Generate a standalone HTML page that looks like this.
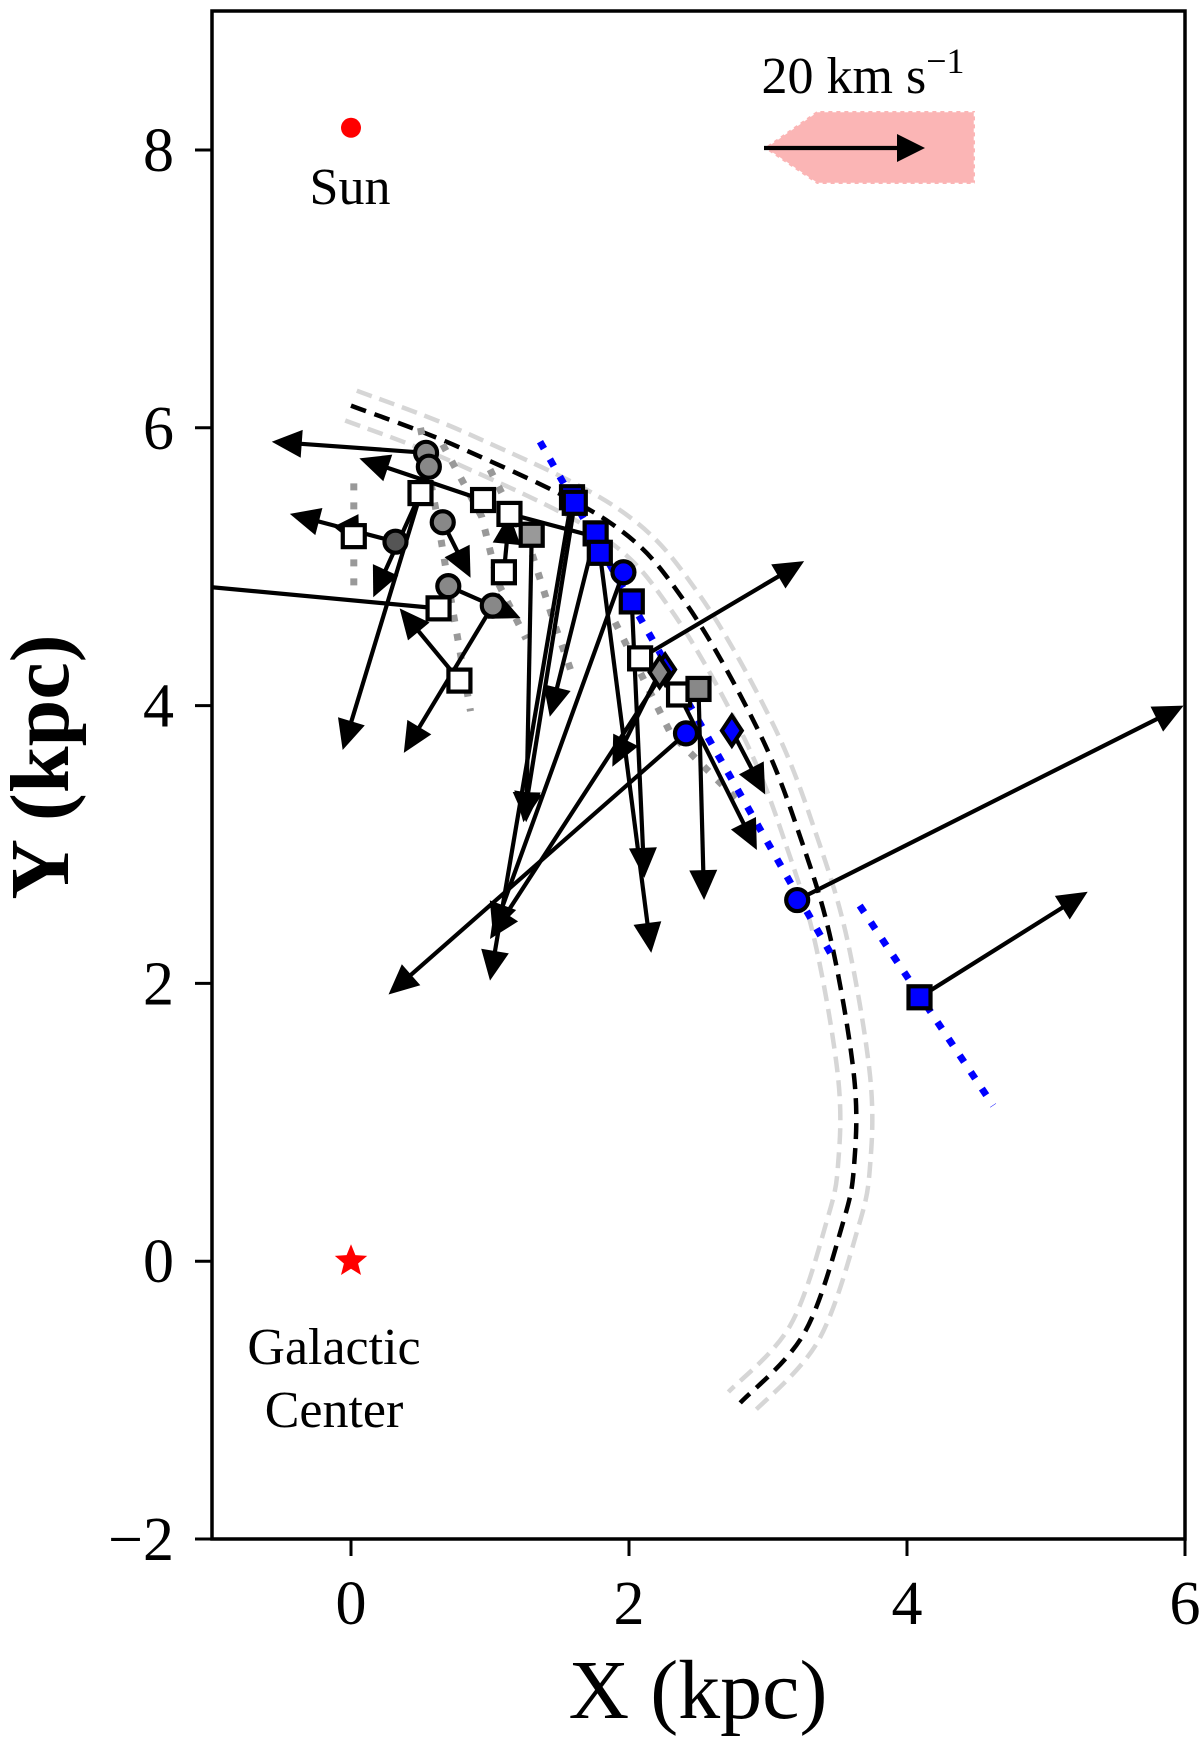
<!DOCTYPE html>
<html><head><meta charset="utf-8">
<style>
html,body{margin:0;padding:0;background:#fff;}
svg{display:block;font-family:"Liberation Serif",serif;}
</style></head>
<body>
<svg id="chart" width="1200" height="1737" viewBox="0 0 1200 1737" xmlns="http://www.w3.org/2000/svg">
<defs><clipPath id="plotclip"><rect x="212" y="11" width="973" height="1528"/></clipPath></defs>
<rect x="0" y="0" width="1200" height="1737" fill="#fff"/>
<g id="plot" clip-path="url(#plotclip)"></g>
<g id="axes"></g>
</svg>
<script>
// ---- data ----
const xTicks = [0, 2, 4, 6];
const yTicks = [-2, 0, 2, 4, 6, 8];
const arcX = [0, 0.8, 1.86, 2.4, 2.94, 3.25, 3.46, 3.62, 3.62, 3.54, 3.26, 2.8];
const arcY = [6.16, 5.85, 5.32, 4.75, 3.8, 3.0, 2.28, 1.32, 0.7, 0.28, -0.52, -1.02];
const blueLine1X = [1.36, 3.46]; const blueLine1Y = [5.9, 2.2];
const blueLine2X = [3.66, 4.62]; const blueLine2Y = [2.56, 1.12];
const grayDotA_X = [0.02, 0.02]; const grayDotA_Y = [5.6, 4.86];
const grayDotB_X = [0.5, 0.62, 0.74, 0.86]; const grayDotB_Y = [6.0, 5.36, 4.64, 3.96];
const grayDotC_X = [0.66, 0.94, 1.06, 1.26]; const grayDotC_Y = [5.88, 5.36, 4.88, 4.48];
const grayDotD_X = [1.0, 1.3, 1.46, 1.6]; const grayDotD_Y = [5.7, 5.1, 4.6, 4.2];
const grayDotE_X = [1.9, 2.3, 2.8]; const grayDotE_Y = [4.6, 3.8, 3.3];
// markers: x, y, arrow end x, arrow end y, shape, fill
const mX  = [0.54,0.56,0.50,0.32,0.02,0.66,0.70,1.02,0.78,0.63,0.95,1.10,1.14,1.30,1.59,1.61,1.76,1.79,1.96,2.02,2.08,2.26,2.22,2.36,2.50,2.41,2.74,3.21,4.09];
const mY  = [5.82,5.72,5.53,5.18,5.22,5.32,4.86,4.72,4.18,4.70,5.48,4.96,5.38,5.23,5.50,5.46,5.24,5.10,4.96,4.75,4.34,4.26,4.24,4.08,4.12,3.80,3.82,2.60,1.90];
const uX  = [-0.57,-0.06,0.16,-0.44,0.06,0.86,1.22,0.38,0.35,-1.3,0.06,1.14,1.74,1.26,1.0,1.24,1.43,2.16,1.02,2.11,3.26,1.0,1.88,2.92,2.54,0.27,2.98,5.99,5.30];
const uY  = [5.90,3.68,4.78,5.38,5.14,4.92,4.63,3.66,4.70,4.88,5.78,5.38,5.22,3.16,2.02,3.16,3.92,2.22,2.36,2.76,5.04,2.32,3.56,2.96,2.60,1.92,3.36,4.00,2.66];
const mShape = ["c","c","s","c","s","c","c","c","s","s","s","s","s","s","s","s","s","s","c","s","s","d","d","s","s","c","d","c","s"];
const mFill  = ["#888","#888","#fff","#555","#fff","#888","#888","#888","#fff","#fff","#fff","#fff","#fff","#999","#00f","#00f","#00f","#00f","#00f","#00f","#fff","#00f","#888","#fff","#888","#00f","#00f","#00f","#00f"];
const noHead = [9, 12];

// ---- scales ----
function X(x){ return 351 + 139 * x; }
function Y(y){ return 1539 - 138.9 * (y + 2); }
const NS = "http://www.w3.org/2000/svg";
const plot = document.getElementById('plot');
const axes = document.getElementById('axes');
function mk(tag, attrs, parent){ const e = document.createElementNS(NS, tag); for (const k in attrs) e.setAttribute(k, attrs[k]); parent.appendChild(e); return e; }
function pts(xs, ys){ return xs.map((x,i)=>X(x).toFixed(1)+','+Y(ys[i]).toFixed(1)).join(' '); }
function smoothPath(P){
  let d = 'M'+P[0][0].toFixed(1)+','+P[0][1].toFixed(1);
  for (let i=0;i<P.length-1;i++){
    const p0=P[Math.max(0,i-1)], p1=P[i], p2=P[i+1], p3=P[Math.min(P.length-1,i+2)];
    const c1=[p1[0]+(p2[0]-p0[0])/6, p1[1]+(p2[1]-p0[1])/6];
    const c2=[p2[0]-(p3[0]-p1[0])/6, p2[1]-(p3[1]-p1[1])/6];
    d += ' C'+c1.map(v=>v.toFixed(1)).join(',')+' '+c2.map(v=>v.toFixed(1)).join(',')+' '+p2.map(v=>v.toFixed(1)).join(',');
  }
  return d;
}
function offsetP(xs, ys, d){
  const P = xs.map((x,i)=>[X(x),Y(ys[i])]); const out=[];
  for (let i=0;i<P.length;i++){
    const a=P[Math.max(0,i-1)], b=P[Math.min(P.length-1,i+1)];
    let dx=b[0]-a[0], dy=b[1]-a[1]; const L=Math.hypot(dx,dy); dx/=L; dy/=L;
    out.push([P[i][0]-dy*d, P[i][1]+dx*d]);
  }
  return out;
}
[-16, 16].forEach((d, i) => {
  const e = mk('path', {d: smoothPath(offsetP(arcX, arcY, d)), fill:'none', stroke:'#d6d6d6', 'stroke-width':4.5, 'stroke-dasharray':'16,8'}, plot);
  
  
});
const arc = mk('path', {d: smoothPath(offsetP(arcX, arcY, 0)), fill:'none', stroke:'#000', 'stroke-width':4.5, 'stroke-dasharray':'16,9'}, plot);



[[grayDotA_X,grayDotA_Y],[grayDotB_X,grayDotB_Y],[grayDotC_X,grayDotC_Y],[grayDotD_X,grayDotD_Y],[grayDotE_X,grayDotE_Y]].forEach(g=>{
  const e = mk('polyline', {points: pts(g[0], g[1]), fill:'none', stroke:'#999', 'stroke-width':7, 'stroke-dasharray':'7,12'}, plot);
  
  
});
[[blueLine1X,blueLine1Y],[blueLine2X,blueLine2Y]].forEach(g=>{
  const e = mk('polyline', {points: pts(g[0], g[1]), fill:'none', stroke:'#00f', 'stroke-width':7, 'stroke-dasharray':'8,12'}, plot);
  
  
});

// arrows
for (let i=0;i<mX.length;i++){
  const x1=X(mX[i]), y1=Y(mY[i]), x2=X(uX[i]), y2=Y(uY[i]);
  const g = mk('g', {}, plot);
  
  
  let dx=x2-x1, dy=y2-y1; const L=Math.hypot(dx,dy)||1; dx/=L; dy/=L;
  const hl=30, hw=14;
  const head = noHead.indexOf(i) < 0;
  const ex = head ? x2-dx*hl*0.8 : x2, ey = head ? y2-dy*hl*0.8 : y2;
  mk('line', {x1, y1, x2:ex, y2:ey, stroke:'#000', 'stroke-width':4.2}, g);
  if (head){
    const bx=x2-dx*hl, by=y2-dy*hl;
    mk('polygon', {points: `${x2},${y2} ${bx-dy*hw},${by+dx*hw} ${bx+dy*hw},${by-dx*hw}`, fill:'#000'}, g);
  }
}
// markers
for (let i=0;i<mX.length;i++){
  const x=X(mX[i]), y=Y(mY[i]); let e;
  if (mShape[i]==='c') e = mk('circle', {cx:x, cy:y, r:11, fill:mFill[i], stroke:'#000', 'stroke-width':4.2}, plot);
  else if (mShape[i]==='s') e = mk('rect', {x:x-11, y:y-11, width:22, height:22, fill:mFill[i], stroke:'#000', 'stroke-width':4.2}, plot);
  else e = mk('polygon', {points:`${x},${y-15} ${x+10},${y} ${x},${y+15} ${x-10},${y}`, fill:mFill[i], stroke:'#000', 'stroke-width':4}, plot);
  
  
}

// Sun & GC
const sun = mk('circle', {cx:X(0), cy:Y(8.16), r:10, fill:'#f00'}, plot);


(function(){
  const cx=X(0), cy=Y(0), R=17, r=7.5; const p=[];
  for (let k=0;k<10;k++){ const a=-Math.PI/2+k*Math.PI/5; const rr=k%2?r:R; p.push((cx+rr*Math.cos(a)).toFixed(1)+','+(cy+rr*Math.sin(a)).toFixed(1)); }
  const s = mk('polygon', {points:p.join(' '), fill:'#f00'}, plot);
  
  
})();

// scale bar
const sb = mk('polygon', {points:'764,148 817,111 975,111 975,184 817,184', fill:'#fbb5b5', stroke:'#fff', 'stroke-width':2.5, 'stroke-dasharray':'4,4'}, axes);


const sa = mk('g', {}, axes);


mk('line', {x1:764, y1:148, x2:905, y2:148, stroke:'#000', 'stroke-width':4.2}, sa);
mk('polygon', {points:'925,148 897,134 897,162', fill:'#000'}, sa);
</script>
<script>
(function(){
const NS="http://www.w3.org/2000/svg";
const axes=document.getElementById('axes');
function mk(tag, attrs, parent, txt){ const e=document.createElementNS(NS,tag); for(const k in attrs) e.setAttribute(k,attrs[k]); if(txt!==undefined) e.textContent=txt; parent.appendChild(e); return e; }
const frame = mk('rect', {x:212, y:11, width:973, height:1528, fill:'none', stroke:'#000', 'stroke-width':3.5}, axes);


xTicks.forEach(t=>{
  const x=X(t);
  const l = mk('line', {x1:x, y1:1539, x2:x, y2:1556, stroke:'#000', 'stroke-width':3}, axes);
  
  
  const tx = mk('text', {x:x, y:1624, 'font-size':62, 'text-anchor':'middle'}, axes, String(t));
  
  
});
yTicks.forEach(t=>{
  const y=Y(t);
  const l = mk('line', {x1:195, y1:y, x2:212, y2:y, stroke:'#000', 'stroke-width':3}, axes);
  
  
  const tx = mk('text', {x:174, y:y+21, 'font-size':62, 'text-anchor':'end'}, axes, t<0 ? '\u2212'+(-t) : String(t));
  
  
});
const xt = mk('text', {x:698, y:1718, 'font-size':84, 'text-anchor':'middle'}, axes, 'X (kpc)');


const yt = mk('text', {x:0, y:0, 'font-size':84, 'font-weight':'bold', 'text-anchor':'middle', transform:'translate(68,767) rotate(-90)'}, axes, 'Y (kpc)');


const s = mk('text', {x:350, y:204, 'font-size':52, 'text-anchor':'middle'}, axes, 'Sun');


const g1 = mk('text', {x:334, y:1364, 'font-size':52, 'text-anchor':'middle'}, axes, 'Galactic');


const g2 = mk('text', {x:334, y:1427, 'font-size':52, 'text-anchor':'middle'}, axes, 'Center');


const sl = mk('text', {x:863, y:93, 'font-size':52, 'text-anchor':'middle'}, axes, '20 km s');


mk('tspan', {dy:-20, 'font-size':36}, sl, '\u22121');
})();
</script>
</body></html>
